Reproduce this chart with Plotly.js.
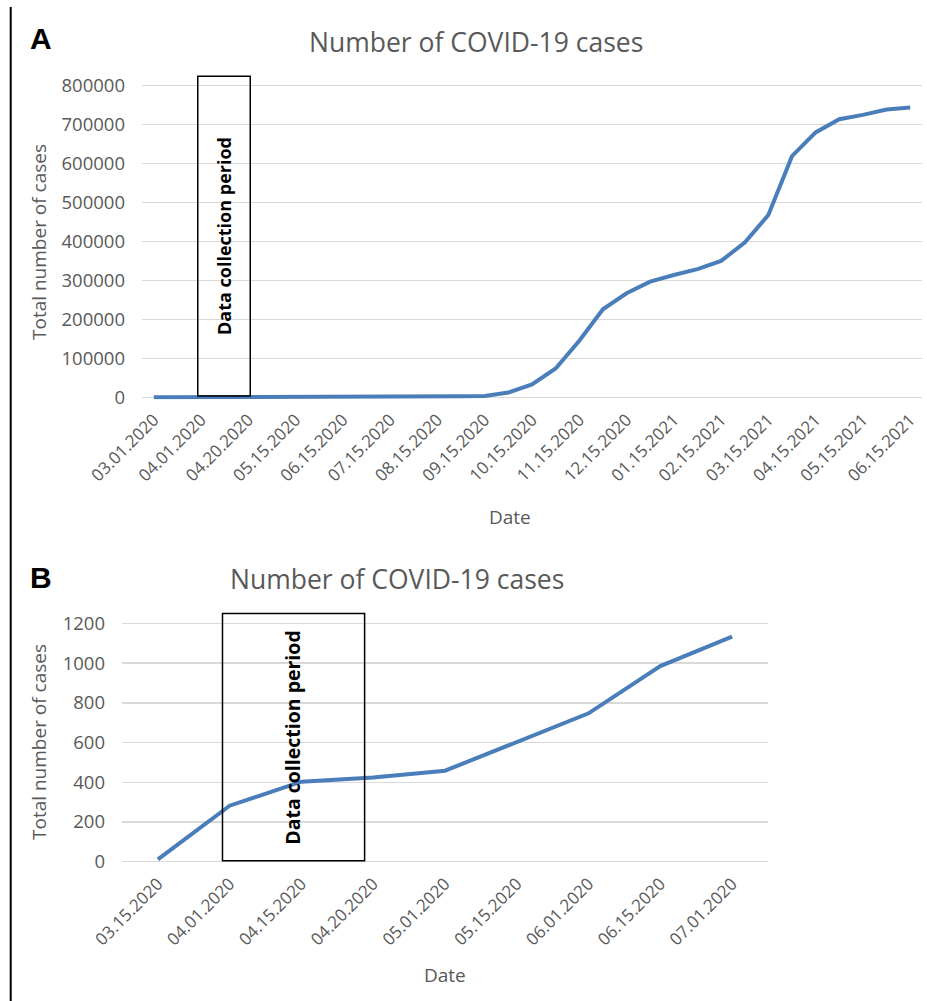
<!DOCTYPE html>
<html>
<head>
<meta charset="utf-8">
<script src="https://cdn.plot.ly/plotly-3.0.1.min.js"></script>
<style>
  html, body { margin: 0; padding: 0; background: #ffffff; }
  #chart { width: 927px; height: 1001px; }
</style>
</head>
<body>
<div id="chart"></div>
<script>
// ---- Panel A data ----
const datesA = [
  "03.01.2020", "03.15.2020", "04.01.2020", "04.15.2020", "04.20.2020", "05.01.2020",
  "05.15.2020", "06.01.2020", "06.15.2020", "07.01.2020", "07.15.2020", "08.01.2020",
  "08.15.2020", "09.01.2020", "09.15.2020", "10.01.2020", "10.15.2020", "11.01.2020",
  "11.15.2020", "12.01.2020", "12.15.2020", "01.01.2021", "01.15.2021", "02.01.2021",
  "02.15.2021", "03.01.2021", "03.15.2021", "04.01.2021", "04.15.2021", "05.01.2021",
  "05.15.2021", "06.01.2021", "06.15.2021"
];
const casesA = [
  0, 12, 282, 403, 424, 458,
  604, 747, 985, 1133, 1350, 1600,
  1900, 2400, 3500, 12000, 33000, 74000,
  145000, 226000, 267000, 297000, 314000, 329000,
  350000, 397000, 468000, 619000, 680000, 714000,
  725000, 739000, 744000
];
const tickLabelsA = [
  "03.01.2020", "04.01.2020", "04.20.2020", "05.15.2020", "06.15.2020", "07.15.2020",
  "08.15.2020", "09.15.2020", "10.15.2020", "11.15.2020", "12.15.2020", "01.15.2021",
  "02.15.2021", "03.15.2021", "04.15.2021", "05.15.2021", "06.15.2021"
];
const yTicksA = [0, 100000, 200000, 300000, 400000, 500000, 600000, 700000, 800000];

// ---- Panel B data ----
const datesB = [
  "03.15.2020", "04.01.2020", "04.15.2020", "04.20.2020", "05.01.2020",
  "05.15.2020", "06.01.2020", "06.15.2020", "07.01.2020"
];
const casesB = [12, 282, 403, 424, 458, 604, 747, 985, 1133];
const yTicksB = [0, 200, 400, 600, 800, 1000, 1200];

const titleText = "Number of COVID-19 cases";
const yTitleText = "Total number of cases";
const xTitleText = "Date";
const periodText = "Data collection period";

// ---- styling ----
const lineColor = "#4a7ebb";
const grey = "#595959";
const gridColor = "#d9d9d9";
const FONT = "Open Sans, sans-serif";

const W = 927, H = 1001;
const px = v => v / W;          // x pixel -> paper
const py = v => 1 - v / H;      // y pixel -> paper

const traces = [
  { x: datesA, y: casesA, type: "scatter", mode: "lines", xaxis: "x", yaxis: "y",
    line: { color: lineColor, width: 4 }, hoverinfo: "x+y", showlegend: false },
  { x: datesB, y: casesB, type: "scatter", mode: "lines", xaxis: "x2", yaxis: "y2",
    line: { color: lineColor, width: 4 }, hoverinfo: "x+y", showlegend: false }
];

const axisCommon = {
  showline: false, zeroline: false, ticks: "",
  tickfont: { family: FONT, size: 17, color: grey },
  fixedrange: true
};

const layout = {
  width: W, height: H,
  margin: { l: 0, r: 0, t: 0, b: 0 },
  paper_bgcolor: "#ffffff", plot_bgcolor: "#ffffff",
  showlegend: false,
  xaxis: Object.assign({}, axisCommon, {
    type: "category", categoryorder: "array", categoryarray: datesA,
    domain: [px(142), px(922)], range: [-0.5, datesA.length - 0.5],
    anchor: "y", showgrid: false,
    tickmode: "array", tickvals: tickLabelsA, ticktext: tickLabelsA,
    tickangle: -45, ticklabelstandoff: 6
  }),
  yaxis: Object.assign({}, axisCommon, {
    domain: [py(399.6), py(74)], range: [-6000, 830000],
    anchor: "x", showgrid: true, gridcolor: gridColor, gridwidth: 1.5,
    tickmode: "array", tickvals: yTicksA, ticktext: yTicksA.map(String),
    tickfont: { family: FONT, size: 18.5, color: grey },
    ticklabelstandoff: 16
  }),
  xaxis2: Object.assign({}, axisCommon, {
    type: "category", categoryorder: "array", categoryarray: datesB,
    domain: [px(122), px(768)], range: [-0.5, datesB.length - 0.5],
    anchor: "y2", showgrid: false,
    tickmode: "array", tickvals: datesB, ticktext: datesB,
    tickangle: -45, ticklabelstandoff: 6
  }),
  yaxis2: Object.assign({}, axisCommon, {
    domain: [py(863.7), py(611.4)], range: [-10, 1260],
    anchor: "x2", showgrid: true, gridcolor: gridColor, gridwidth: 1.5,
    tickmode: "array", tickvals: yTicksB, ticktext: yTicksB.map(String),
    tickfont: { family: FONT, size: 18.5, color: grey },
    ticklabelstandoff: 16
  }),
  shapes: [
    // data collection period boxes
    { type: "rect", xref: "x", yref: "y", x0: 1.86, x1: 4.08, y0: 3000, y1: 824000,
      line: { color: "#000000", width: 1.5 }, fillcolor: "rgba(0,0,0,0)", layer: "above" },
    { type: "rect", xref: "x2", yref: "y2", x0: 0.9, x1: 2.88, y0: 5, y1: 1250,
      line: { color: "#000000", width: 1.5 }, fillcolor: "rgba(0,0,0,0)", layer: "above" },
    // left border line
    { type: "line", xref: "paper", yref: "paper", x0: px(10.7), x1: px(10.7), y0: py(7), y1: 0,
      line: { color: "#000000", width: 2 } }
  ],
  annotations: [
    { text: "<b>A</b>", xref: "paper", yref: "paper", x: px(28), y: py(38), xanchor: "left", yanchor: "middle",
      showarrow: false, font: { family: "Liberation Sans, Arial, sans-serif", size: 30, color: "#000000" } },
    { text: "<b>B</b>", xref: "paper", yref: "paper", x: px(28), y: py(577), xanchor: "left", yanchor: "middle",
      showarrow: false, font: { family: "Liberation Sans, Arial, sans-serif", size: 30, color: "#000000" } },
    { text: titleText, xref: "paper", yref: "paper", x: px(476), y: py(42), xanchor: "center", yanchor: "middle",
      showarrow: false, font: { family: FONT, size: 26.5, color: grey } },
    { text: titleText, xref: "paper", yref: "paper", x: px(397), y: py(579), xanchor: "center", yanchor: "middle",
      showarrow: false, font: { family: FONT, size: 26.5, color: grey } },
    { text: yTitleText, xref: "paper", yref: "paper", x: px(39), y: py(242), xanchor: "center", yanchor: "middle",
      textangle: -90, showarrow: false, font: { family: FONT, size: 19, color: grey } },
    { text: yTitleText, xref: "paper", yref: "paper", x: px(39), y: py(742), xanchor: "center", yanchor: "middle",
      textangle: -90, showarrow: false, font: { family: FONT, size: 19, color: grey } },
    { text: xTitleText, xref: "paper", yref: "paper", x: px(510), y: py(517), xanchor: "center", yanchor: "middle",
      showarrow: false, font: { family: FONT, size: 19, color: grey } },
    { text: xTitleText, xref: "paper", yref: "paper", x: px(445), y: py(975), xanchor: "center", yanchor: "middle",
      showarrow: false, font: { family: FONT, size: 19, color: grey } },
    { text: "<b>" + periodText + "</b>", xref: "x", yref: "y", x: 2.97, y: 414000, xanchor: "center", yanchor: "middle",
      textangle: -90, showarrow: false, font: { family: FONT, size: 18, color: "#000000" } },
    { text: "<b>" + periodText + "</b>", xref: "x2", yref: "y2", x: 1.88, y: 628, xanchor: "center", yanchor: "middle",
      textangle: -90, showarrow: false, font: { family: FONT, size: 19.5, color: "#000000" } }
  ]
};

Plotly.newPlot("chart", traces, layout, { staticPlot: true, displayModeBar: false });
</script>
</body>
</html>
